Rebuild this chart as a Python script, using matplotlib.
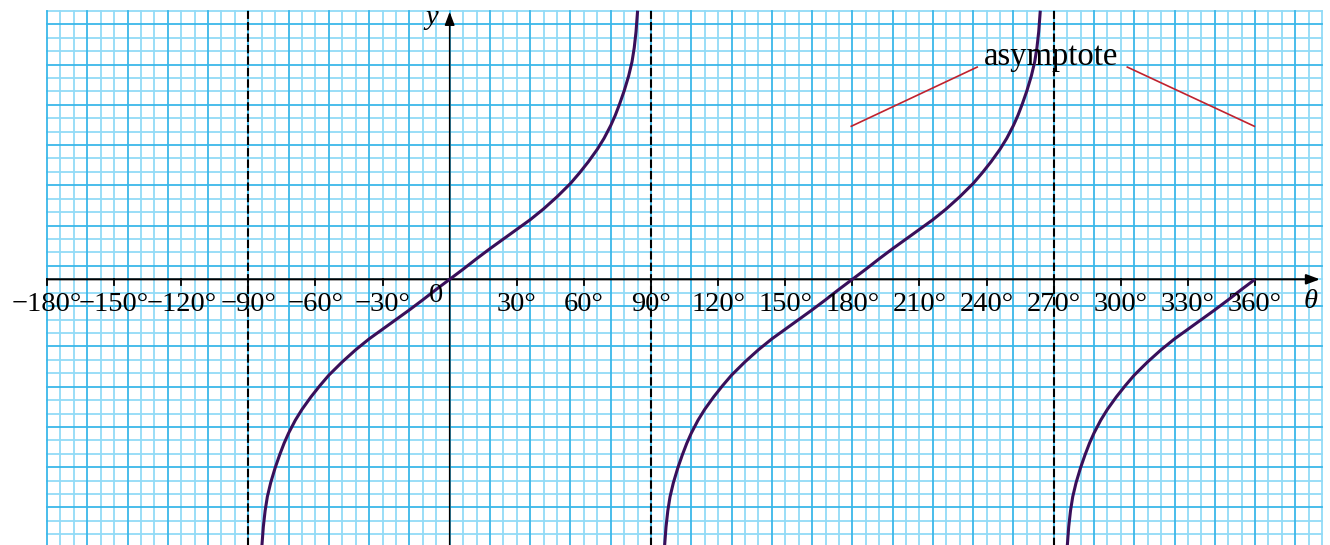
import numpy as np
import matplotlib.pyplot as plt

# one branch of the curve, angle measured from the branch centre (deg) -> y (grid squares)
branch_deg = [-84.5, -84.0, -83.3, -82.5, -81.5, -80.0, -78.0, -76.0, -74.0, -72.0, -69.0, -66.0,
              -62.0, -58.0, -54.0, -48.0, -42.0, -36.0, -30.0, -24.0, -18.0, -12.0, -6.0,
              0.0, 6.0, 12.0, 18.0, 24.0, 30.0, 36.0, 42.0, 48.0, 54.0, 58.0, 62.0, 66.0,
              69.0, 72.0, 74.0, 76.0, 78.0, 80.0, 81.5, 82.5, 83.3, 84.0]
branch_y = [-7.30, -6.67, -6.15, -5.75, -5.40, -5.05, -4.68, -4.36, -4.07, -3.82, -3.50, -3.23,
            -2.92, -2.64, -2.38, -2.05, -1.75, -1.48, -1.24, -1.00, -0.76, -0.51, -0.25,
            0.0, 0.25, 0.51, 0.76, 1.00, 1.24, 1.48, 1.75, 2.05, 2.38, 2.64, 2.92, 3.23,
            3.50, 3.82, 4.07, 4.36, 4.68, 5.05, 5.40, 5.75, 6.15, 6.67]
branch_centres = [0, 180, 360]
branch_last = [84.0, 84.0, 0.0]   # the last branch stops at the axis

asymptotes = [-90, 90, 270]
tick_deg = [-180, -150, -120, -90, -60, -30, 30, 60, 90, 120, 150, 180, 210, 240, 270, 300, 330, 360]
tick_labels = ['−180°', '−150°', '−120°', '−90°', '−60°', '−30°', '30°', '60°', '90°', '120°',
               '150°', '180°', '210°', '240°', '270°', '300°', '330°', '360°']

serif = 'Liberation Serif'
major_c = '#3ab7e9'
minor_c = '#92dbf7'
curve_c = '#3a0f5a'

fig = plt.figure(figsize=(13.3, 5.45), dpi=100)
ax = fig.add_axes([0, 0, 1, 1])
ax.set_xlim(-201.0, 393.5)
ax.set_ylim(-6.598, 6.936)
ax.axis('off')

# graph paper: 6 deg / one third square minor, 18 deg / one square major
x0, x1 = -180, 390
ytop = 20 / 3
ybot = -7.0
for i, xv in enumerate(np.arange(x0, x1 + 0.1, 6)):
    major = i % 3 == 0
    ax.plot([xv, xv], [ybot, ytop], color=major_c if major else minor_c,
            lw=1.3, zorder=1 if major else 0.5)
for j in range(-21, 21):
    yv = j / 3
    major = j % 3 == 1
    ax.plot([x0, x1], [yv, yv], color=major_c if major else minor_c,
            lw=1.3, zorder=1 if major else 0.5)

# asymptotes
for a in asymptotes:
    ax.plot([a, a], [ybot, ytop], color='black', lw=1.5, ls=(0, (4, 1.5)), zorder=3)

# axes with arrows
ax.annotate('', xy=(389, 0), xytext=(-180, 0),
            arrowprops=dict(arrowstyle='-|>,head_length=0.8,head_width=0.3', color='black', lw=1.5,
                            shrinkA=0, shrinkB=0), zorder=4)
ax.annotate('', xy=(0, 6.64), xytext=(0, ybot),
            arrowprops=dict(arrowstyle='-|>,head_length=0.8,head_width=0.3', color='black', lw=1.1,
                            shrinkA=0, shrinkB=0), zorder=4)
for t, lab in zip(tick_deg, tick_labels):
    ax.plot([t, t], [0, -0.15], color='black', lw=1.3, zorder=4)
    ax.text(t, -0.31, lab, ha='center', va='top', family=serif, fontsize=20.5, zorder=6)
ax.text(-6, -0.08, '0', ha='center', va='top', family=serif, fontsize=20.5, zorder=6)
ax.text(385, -0.55, 'θ', ha='center', va='center', family=serif, style='italic', fontsize=20.5, zorder=6)
ax.text(-8, 6.49, 'y', ha='center', va='center', family=serif, style='italic', fontsize=20.5, zorder=6)

# the curve branches
bd = np.array(branch_deg)
by = np.array(branch_y)
for c, last in zip(branch_centres, branch_last):
    keep = bd <= last
    ax.plot(bd[keep] + c, by[keep], color=curve_c, lw=2.2, zorder=5,
            solid_capstyle='butt', solid_joinstyle='round')

# asymptote label with pointer lines
ax.text(269.0, 5.32, 'asymptote', ha='center', va='baseline', family=serif, fontsize=23.5, zorder=6)
ax.plot([179.5, 235.8], [3.80, 5.27], color='#c0222e', lw=1.2, zorder=6)
ax.plot([302.9, 359.7], [5.27, 3.80], color='#c0222e', lw=1.2, zorder=6)

fig.savefig('out.png', dpi=100)
